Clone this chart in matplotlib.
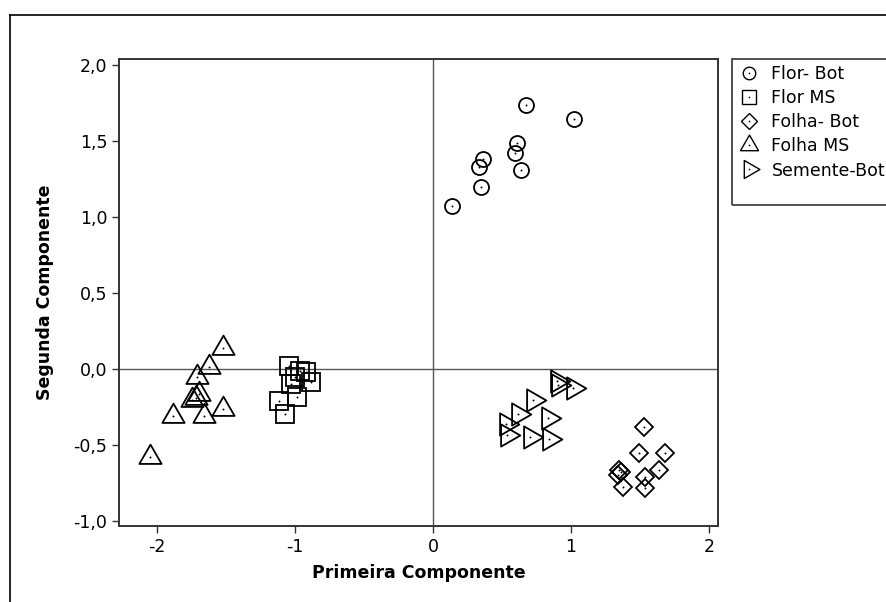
import matplotlib
matplotlib.use('Agg')
import matplotlib.pyplot as plt
import matplotlib.patches as patches
from matplotlib.lines import Line2D
from matplotlib.path import Path
from matplotlib.legend_handler import HandlerTuple
from matplotlib.ticker import FuncFormatter

# Scores (first and second principal component)
flor_bot_x = [0.674, 1.022, 0.607, 0.594, 0.360, 0.336, 0.638, 0.348, 0.136]
flor_bot_y = [1.735, 1.645, 1.485, 1.419, 1.382, 1.327, 1.309, 1.195, 1.072]

flor_ms_x = [-1.043, -0.964, -0.922, -0.884, -1.031, -0.983, -1.118, -1.072, -1.000]
flor_ms_y = [0.020, -0.011, -0.018, -0.083, -0.101, -0.182, -0.211, -0.296, -0.050]

folha_bot_x = [1.529, 1.495, 1.683, 1.640, 1.350, 1.362, 1.343, 1.536, 1.379, 1.536]
folha_bot_y = [-0.380, -0.551, -0.551, -0.664, -0.664, -0.680, -0.697, -0.713, -0.779, -0.785]

folha_ms_x = [-1.519, -1.621, -1.712, -1.693, -1.749, -1.720, -1.524, -1.882, -1.657, -2.051]
folha_ms_y = [0.140, 0.015, -0.055, -0.164, -0.204, -0.190, -0.265, -0.307, -0.309, -0.581]

semente_x = [0.896, 0.908, 1.012, 0.722, 0.618, 0.836, 0.529, 0.534, 0.703, 0.843]
semente_y = [-0.079, -0.105, -0.123, -0.204, -0.298, -0.320, -0.364, -0.434, -0.445, -0.461]

labels = ['Flor- Bot', 'Flor MS', 'Folha- Bot', 'Folha MS', 'Semente-Bot']
x_ticks = [-2, -1, 0, 1, 2]
y_ticks = [-1.0, -0.5, 0.0, 0.5, 1.0, 1.5, 2.0]

# equilateral triangles centred on their centroid (closed paths)
tri_up = Path([(-1, -0.577), (1, -0.577), (0, 1.155), (-1, -0.577)], closed=True)
tri_right = Path([(-0.577, 1), (-0.577, -1), (1.155, 0), (-0.577, 1)], closed=True)

plt.rcParams['font.family'] = ['DejaVu Sans']
plt.rcParams['font.size'] = 12.5

fig = plt.figure(figsize=(8.87, 6.02), dpi=100)
ax = fig.add_axes([119 / 887, 1 - 526 / 602, (718 - 119) / 887, (526 - 59) / 602])

# reference lines through the origin
ax.axhline(0, color='#555555', lw=1.0, zorder=1)
ax.axvline(0, color='#555555', lw=1.0, zorder=1)

series = [
    (flor_bot_x, flor_bot_y, 'o', 10.8, 9.0),
    (flor_ms_x, flor_ms_y, 's', 12.8, 10.0),
    (folha_bot_x, folha_bot_y, 'D', 9.0, 8.4),
    (folha_ms_x, folha_ms_y, tri_up, 18.5, 15.0),
    (semente_x, semente_y, tri_right, 18.5, 15.0),
]

handles = []
for (xs, ys, mk, ms, ms_leg), lab in zip(series, labels):
    ax.plot(xs, ys, ls='none', marker=mk, ms=ms, mfc='none', mec='black',
            mew=1.3, zorder=3)
    ax.plot(xs, ys, ls='none', marker='o', ms=1.4, mfc='black', mec='black',
            mew=0, zorder=4)
    h1 = Line2D([], [], ls='none', marker=mk, ms=ms_leg, mfc='none',
                mec='black', mew=1.0)
    h2 = Line2D([], [], ls='none', marker='o', ms=1.2, mfc='black', mew=0)
    handles.append((h1, h2))

ax.set_xlim(-2.275, 2.065)
ax.set_ylim(-1.033, 2.04)
ax.set_xticks(x_ticks)
ax.set_yticks(y_ticks)
ax.yaxis.set_major_formatter(FuncFormatter(lambda v, p: f'{v:.1f}'.replace('.', ',')))
ax.xaxis.set_major_formatter(FuncFormatter(lambda v, p: f'{v:.0f}'))

for s in ax.spines.values():
    s.set_linewidth(1.4)
    s.set_color('#333333')
ax.tick_params(direction='out', length=5, width=1.0, color='#333333')

ax.set_xlabel('Primeira Componente', fontweight='bold', labelpad=6)
ax.set_ylabel('Segunda Componente', fontweight='bold', labelpad=14)

# legend box runs off the right edge like in the original
fig.add_artist(patches.Rectangle((732 / 887, 1 - 205 / 602), 0.3, (205 - 59) / 602,
                                 transform=fig.transFigure, fill=False,
                                 edgecolor='#333333', lw=1.2))
fig.legend(handles, labels, loc='upper left', bbox_to_anchor=(735 / 887, 1 - 60 / 602),
           frameon=False, handler_map={tuple: HandlerTuple(ndivide=1)},
           handlelength=1.0, handletextpad=0.8, labelspacing=0.35,
           borderpad=0.3, borderaxespad=0)

# outer frame of the graph window
fig.add_artist(Line2D([10 / 887, 10 / 887], [0, 1 - 15 / 602], transform=fig.transFigure,
                      color='black', lw=1.2))
fig.add_artist(Line2D([10 / 887, 1], [1 - 15 / 602, 1 - 15 / 602], transform=fig.transFigure,
                      color='black', lw=1.2))

fig.savefig('out.png', dpi=100)
